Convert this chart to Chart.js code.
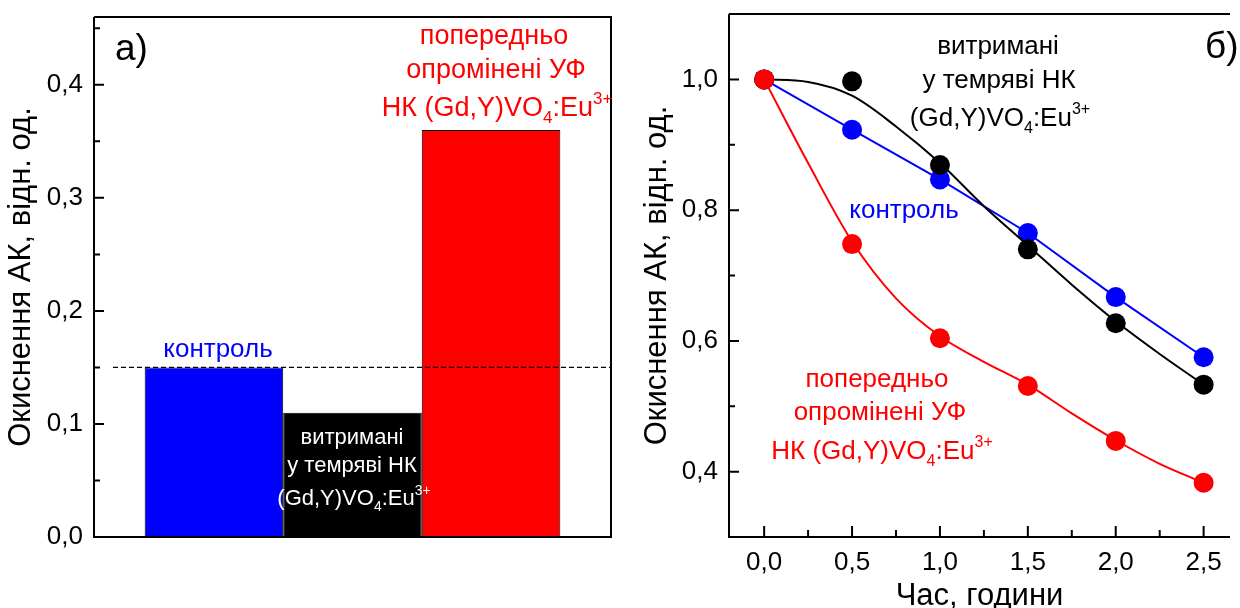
<!DOCTYPE html>
<html lang="uk">
<head>
    <meta charset="UTF-8">
    <title>Окиснення АК</title>
    <script src="https://cdn.jsdelivr.net/npm/chart.js"></script>
    <style>
        body {
            margin: 0;
            background: #fff;
            width: 1240px;
            height: 608px;
            overflow: hidden;
            position: relative;
        }
        .panel {
            position: absolute;
            top: 0;
            width: 620px;
            height: 608px;
        }
        #left { left: 0; }
        #right { left: 620px; }
    </style>
</head>
<body>
    <div class="panel" id="left"><canvas id="barChart" width="620" height="608"></canvas></div>
    <div class="panel" id="right"><canvas id="lineChart" width="620" height="608"></canvas></div>

    <script>
        // a) oxidation after 2.5 h
        const barGroups = ['контроль', 'витримані у темряві НК', 'попередньо опромінені УФ НК'];
        const barValues = [0.15, 0.11, 0.36];
        const barColors = ['#0000ff', '#000000', '#ff0000'];
        const refLevel = 0.15;
        const barTicks = [0, 0.1, 0.2, 0.3, 0.4];
        const barMinor = [0.05, 0.15, 0.25, 0.35, 0.45];

        // б) kinetics
        const hours = [0, 0.5, 1.0, 1.5, 2.0, 2.5];
        const control = [1.0, 0.923, 0.847, 0.765, 0.667, 0.575];
        const dark = [1.0, 0.997, 0.869, 0.740, 0.627, 0.533];
        const uv = [1.0, 0.748, 0.604, 0.531, 0.447, 0.383];
        // fitted curves
        const fitHours = [0, 0.25, 0.5, 0.75, 1.0, 1.25, 1.5, 1.75, 2.0, 2.25, 2.5];
        const darkFit = [1.0, 0.996, 0.975, 0.928, 0.872, 0.806, 0.746, 0.686, 0.630, 0.580, 0.533];
        const uvFit = [1.0, 0.872, 0.752, 0.665, 0.607, 0.568, 0.533, 0.489, 0.448, 0.412, 0.383];
        const timeTicks = [0, 0.5, 1.0, 1.5, 2.0, 2.5];
        const timeMinor = [0.25, 0.75, 1.25, 1.75, 2.25];
        const oxTicks = [0.4, 0.6, 0.8, 1.0];
        const oxMinor = [0.5, 0.7, 0.9];

        const FONT = '"Liberation Sans", Arial, sans-serif';
        Chart.defaults.font.family = FONT;
        Chart.defaults.color = '#000';
        Chart.defaults.animation = false;

        const comma = v => Number(v).toFixed(1).replace('.', ',');
        const formula = [{ t: '(Gd,Y)VO' }, { t: '4', sub: true }, { t: ':Eu' }, { t: '3+', sup: true }];

        // draw a line of text with optional sub/superscripts, centred on x, y = baseline
        function drawRich(ctx, parts, x, y, size, align) {
            if (typeof parts === 'string') parts = [{ t: parts }];
            const small = Math.round(size * 0.62);
            const widths = parts.map(p => {
                ctx.font = `${p.sub || p.sup ? small : size}px ${FONT}`;
                return ctx.measureText(p.t).width;
            });
            const total = widths.reduce((a, b) => a + b, 0);
            let cx = align === 'left' ? x : x - total / 2;
            parts.forEach((p, i) => {
                ctx.font = `${p.sub || p.sup ? small : size}px ${FONT}`;
                let dy = 0;
                if (p.sub) dy = size * 0.25;
                if (p.sup) dy = -size * 0.45;
                ctx.fillText(p.t, cx, y + dy);
                cx += widths[i];
            });
        }

        // box around the plot with inward ticks
        const framePlugin = {
            id: 'frame',
            afterDraw(chart, args, opts) {
                const { ctx, chartArea: a, scales } = chart;
                ctx.save();
                ctx.strokeStyle = '#000';
                ctx.lineWidth = 2;
                ctx.beginPath();
                ctx.moveTo(a.left, a.top);
                ctx.lineTo(a.left, a.bottom);
                ctx.lineTo(a.right, a.bottom);
                if (opts.right) {
                    ctx.lineTo(a.right, a.top);
                } else {
                    ctx.moveTo(a.right, a.top);
                }
                ctx.lineTo(a.left, a.top);
                ctx.stroke();

                ctx.beginPath();
                (opts.yMajor || []).forEach(v => {
                    const py = scales.y.getPixelForValue(v);
                    ctx.moveTo(a.left, py);
                    ctx.lineTo(a.left + 10, py);
                });
                (opts.yMinor || []).forEach(v => {
                    const py = scales.y.getPixelForValue(v);
                    ctx.moveTo(a.left, py);
                    ctx.lineTo(a.left + 6, py);
                });
                (opts.xMajor || []).forEach(v => {
                    const px = scales.x.getPixelForValue(v);
                    ctx.moveTo(px, a.bottom);
                    ctx.lineTo(px, a.bottom - 11);
                });
                (opts.xMinor || []).forEach(v => {
                    const px = scales.x.getPixelForValue(v);
                    ctx.moveTo(px, a.bottom);
                    ctx.lineTo(px, a.bottom - 7);
                });
                ctx.stroke();

                if (opts.refLevel !== undefined) {
                    const py = scales.y.getPixelForValue(opts.refLevel);
                    ctx.lineWidth = 1.3;
                    ctx.setLineDash([5, 3]);
                    ctx.beginPath();
                    ctx.moveTo(a.left + 19, py);
                    ctx.lineTo(a.right, py);
                    ctx.stroke();
                }
                ctx.restore();
            }
        };

        // text labels inside the panels
        const notesPlugin = {
            id: 'notes',
            afterDraw(chart, args, opts) {
                const ctx = chart.ctx;
                ctx.save();
                ctx.textBaseline = 'alphabetic';
                ctx.textAlign = 'left';
                (opts.items || []).forEach(n => {
                    ctx.fillStyle = n.color;
                    drawRich(ctx, n.text, n.x, n.y, n.size, n.align);
                });
                ctx.restore();
            }
        };

        // fixed axis sizes, no extra label padding
        function fixY(width) {
            return s => { s.width = width; s.paddingTop = 0; s.paddingBottom = 0; };
        }
        function fixX(height) {
            return s => { s.height = height; s.paddingLeft = 0; s.paddingRight = 0; };
        }

        new Chart(document.getElementById('barChart'), {
            type: 'bar',
            data: {
                labels: [''],
                datasets: barGroups.map((g, i) => ({
                    label: g,
                    data: [barValues[i]],
                    backgroundColor: barColors[i],
                    borderColor: '#000',
                    borderWidth: 1,
                    borderSkipped: false,
                    categoryPercentage: 0.804,
                    barPercentage: 1
                }))
            },
            options: {
                responsive: false,
                layout: { padding: { top: 17, right: 9, bottom: 71, left: 0 } },
                plugins: {
                    legend: { display: false },
                    tooltip: { enabled: false },
                    frame: { right: true, yMajor: barTicks, yMinor: barMinor, refLevel: refLevel },
                    notes: {
                        items: [
                            { text: 'а)', x: 115, y: 60, size: 37, color: '#000', align: 'left' },
                            { text: 'попередньо', x: 494, y: 44, size: 27, color: '#ff0000' },
                            { text: 'опромінені УФ', x: 496, y: 78, size: 27, color: '#ff0000' },
                            { text: [{ t: 'НК ' }].concat(formula), x: 497, y: 116, size: 27, color: '#ff0000' },
                            { text: 'контроль', x: 218, y: 357, size: 26, color: '#0000ff' },
                            { text: 'витримані', x: 352, y: 444, size: 22, color: '#fff' },
                            { text: 'у темряві НК', x: 352, y: 472, size: 22, color: '#fff' },
                            { text: formula, x: 354, y: 505, size: 22, color: '#fff' }
                        ]
                    }
                },
                scales: {
                    x: { display: false },
                    y: {
                        min: 0,
                        max: 0.46,
                        afterFit: fixY(94),
                        afterBuildTicks: s => { s.ticks = barTicks.map(v => ({ value: v })); },
                        grid: { display: false, drawTicks: false },
                        border: { display: false },
                        ticks: { font: { size: 26 }, padding: 11, callback: v => comma(v) },
                        title: {
                            display: true,
                            text: 'Окиснення АК, відн. од.',
                            font: { size: 31 },
                            padding: { top: 3, bottom: 0 }
                        }
                    }
                }
            },
            plugins: [framePlugin, notesPlugin]
        });

        const pts = (xs, ys) => xs.map((x, i) => ({ x: x, y: ys[i] }));

        new Chart(document.getElementById('lineChart'), {
            type: 'line',
            data: {
                datasets: [
                    {
                        label: 'попередньо опромінені УФ',
                        data: pts(hours, uv),
                        showLine: false,
                        pointRadius: 10,
                        pointBorderWidth: 0,
                        pointBackgroundColor: '#ff0000',
                        order: 0
                    },
                    {
                        label: 'fit УФ',
                        data: pts(fitHours, uvFit),
                        borderColor: '#ff0000',
                        borderWidth: 2,
                        pointRadius: 0,
                        cubicInterpolationMode: 'monotone',
                        order: 1
                    },
                    {
                        label: 'витримані у темряві',
                        data: pts(hours, dark),
                        showLine: false,
                        pointRadius: 10,
                        pointBorderWidth: 0,
                        pointBackgroundColor: '#000000',
                        order: 2
                    },
                    {
                        label: 'fit темрява',
                        data: pts(fitHours, darkFit),
                        borderColor: '#000000',
                        borderWidth: 2,
                        pointRadius: 0,
                        cubicInterpolationMode: 'monotone',
                        order: 3
                    },
                    {
                        label: 'контроль',
                        data: pts(hours, control),
                        borderColor: '#0000ff',
                        borderWidth: 2,
                        pointRadius: 10,
                        pointBorderWidth: 0,
                        pointBackgroundColor: '#0000ff',
                        tension: 0,
                        order: 4
                    }
                ]
            },
            options: {
                responsive: false,
                layout: { padding: { top: 14, right: 0, bottom: 0, left: 0 } },
                plugins: {
                    legend: { display: false },
                    tooltip: { enabled: false },
                    frame: { right: false, yMajor: oxTicks, yMinor: oxMinor, xMajor: timeTicks, xMinor: timeMinor },
                    notes: {
                        items: [
                            { text: 'б)', x: 585, y: 58, size: 37, color: '#000', align: 'left' },
                            { text: 'витримані', x: 378, y: 54, size: 26, color: '#000' },
                            { text: 'у темряві НК', x: 379, y: 88, size: 26, color: '#000' },
                            { text: formula, x: 380, y: 126, size: 26, color: '#000' },
                            { text: 'контроль', x: 284, y: 218, size: 26, color: '#0000ff' },
                            { text: 'попередньо', x: 257, y: 387, size: 26, color: '#ff0000' },
                            { text: 'опромінені УФ', x: 260, y: 420, size: 26, color: '#ff0000' },
                            { text: [{ t: 'НК ' }].concat(formula), x: 262, y: 459, size: 26, color: '#ff0000' }
                        ]
                    }
                },
                scales: {
                    x: {
                        type: 'linear',
                        min: -0.2,
                        max: 2.65,
                        afterFit: fixX(71),
                        afterBuildTicks: s => { s.ticks = timeTicks.map(v => ({ value: v })); },
                        grid: { display: false, drawTicks: false },
                        border: { display: false },
                        ticks: { font: { size: 26 }, padding: 10, maxRotation: 0, callback: v => comma(v) },
                        title: {
                            display: true,
                            text: 'Час, години',
                            font: { size: 31 },
                            padding: { top: 0, bottom: -7 }
                        }
                    },
                    y: {
                        min: 0.3,
                        max: 1.1,
                        afterFit: fixY(109),
                        afterBuildTicks: s => { s.ticks = oxTicks.map(v => ({ value: v })); },
                        grid: { display: false, drawTicks: false },
                        border: { display: false },
                        ticks: { font: { size: 26 }, padding: 11, callback: v => comma(v) },
                        title: {
                            display: true,
                            text: 'Окиснення АК, відн. од.',
                            font: { size: 31 },
                            padding: { top: 19, bottom: 0 }
                        }
                    }
                }
            },
            plugins: [framePlugin, notesPlugin]
        });
    </script>
</body>
</html>
